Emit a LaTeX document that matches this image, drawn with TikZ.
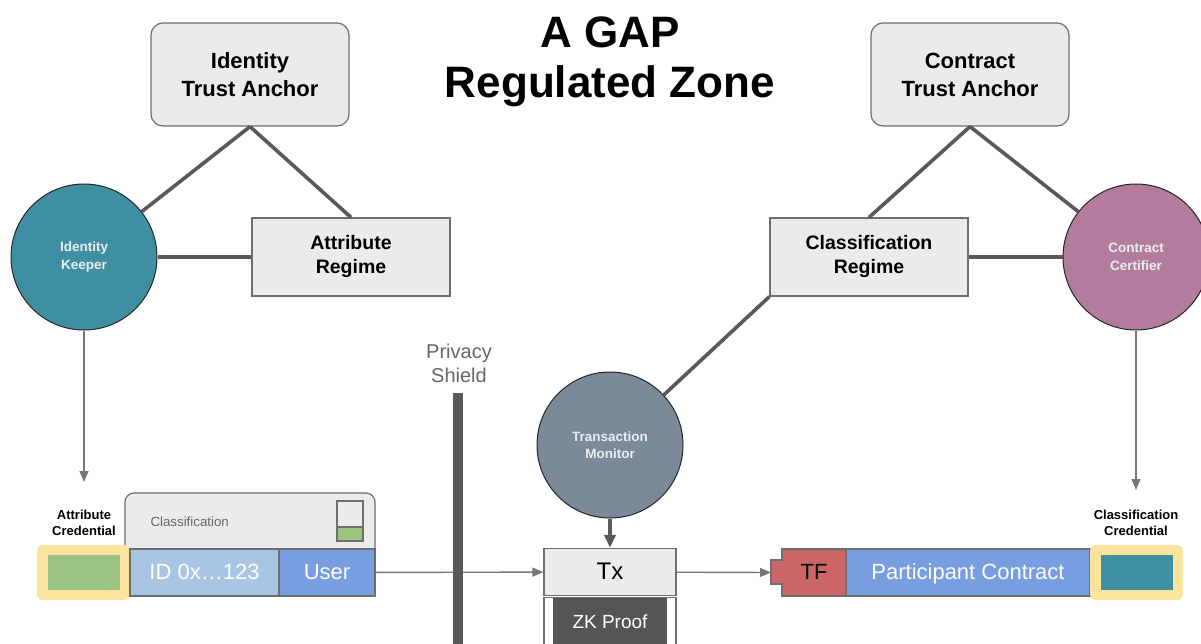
\documentclass[tikz,border=0pt]{standalone}
\usepackage{fontspec}
\setmainfont{Liberation Sans}
\usetikzlibrary{arrows.meta}

\definecolor{boxfill}{HTML}{EBEBEB}
\definecolor{boxline}{HTML}{6E6E6E}
\definecolor{linkgray}{HTML}{595959}
\definecolor{feedgray}{HTML}{777777}
\definecolor{idteal}{HTML}{3F8FA3}
\definecolor{ctmauve}{HTML}{B37B9C}
\definecolor{txslate}{HTML}{7A8A99}
\definecolor{rolefont}{HTML}{EAEEF0}
\definecolor{glowyellow}{HTML}{FBE59E}
\definecolor{chipgreen}{HTML}{9CC382}
\definecolor{idblue}{HTML}{A8C5E3}
\definecolor{userblue}{HTML}{789DE1}
\definecolor{tfred}{HTML}{CC6666}
\definecolor{zkgray}{HTML}{555555}
\definecolor{softtext}{HTML}{666666}

\begin{document}
\begin{tikzpicture}[x=1pt, y=-1pt, >={Triangle[length=11pt,width=9pt]},
    anchorbox/.style = {draw=boxline, fill=boxfill, line width=1.2pt, rounded corners=12pt,
      minimum width=198pt, minimum height=103pt, align=center,
      font=\bfseries\fontsize{22}{28}\selectfont},
    regime/.style = {draw=boxline, fill=boxfill, line width=1.2pt,
      minimum width=198pt, minimum height=78pt, align=center,
      font=\bfseries\fontsize{19.5}{24}\selectfont},
    role/.style = {circle, draw=black!85, line width=1pt, minimum size=146pt, inner sep=0pt,
      text=rolefont, align=center, font=\bfseries\fontsize{13.5}{17.5}\selectfont},
    link/.style = {draw=linkgray, line width=3.6pt},
    feed/.style = {->, draw=feedgray, line width=1.4pt},
    capt/.style = {align=center, font=\bfseries\fontsize{13}{16}\selectfont},
    cell/.style = {draw=boxline, line width=1.2pt, minimum height=47pt, inner sep=0pt,
      text=white, text depth=1pt, font=\fontsize{22}{26}\selectfont},
    glow/.style = {fill=glowyellow, rounded corners=6pt, minimum width=93pt, minimum height=55pt},
    chip/.style = {minimum width=72pt, minimum height=35pt}]

    \clip (0,0) rectangle (1201,644);
    \fill[white] (0,0) rectangle (1201,644);

    % Title
    \node[align=center, font=\bfseries\fontsize{44}{50}\selectfont] (title) at (610,62) {A GAP\\Regulated Zone};

    % Trust anchors and regimes
    \node[anchorbox] (idanchor) at (250,74.5) {Identity\\Trust Anchor};
    \node[anchorbox] (ctanchor) at (970,74.5) {Contract\\Trust Anchor};
    \node[regime] (attrregime) at (351,257) {Attribute\\Regime};
    \node[regime] (clsregime) at (869,257) {Classification\\Regime};

    % Roles
    \node[role, fill=idteal] (keeper) at (84,257) {Identity\\Keeper};
    \node[role, fill=ctmauve] (certifier) at (1136,257) {Contract\\Certifier};
    \node[role, fill=txslate] (monitor) at (610,445) {Transaction\\Monitor};

    % Privacy shield label
    \node[align=center, text=softtext, font=\fontsize{20}{24}\selectfont] (shield) at (459,363) {Privacy\\Shield};

    % Attribute credential and user
    \node[capt] (attrcap) at (84,523) {Attribute\\Credential};
    \node[draw=boxline, fill=boxfill, line width=1.2pt, rounded corners=9pt,
      minimum width=250pt, minimum height=64pt] (clsbox) at (250,525) {};
    \node[anchor=west, text=softtext, font=\fontsize{13.3}{16}\selectfont] (clslabel) at (147,522) {Classification};
    \filldraw[draw=boxline, fill=boxfill, line width=1.2pt] (337,501) rectangle (363,541);
    \filldraw[draw=boxline, fill=chipgreen, line width=1.2pt] (337,527) rectangle (363,541);
    \node[glow] (attrglow) at (83.5,572.5) {};
    \node[chip, fill=chipgreen] (attrchip) at (attrglow) {};
    \node[cell, fill=idblue, minimum width=149pt] (idcell) at (204.5,572.5) {ID 0x…123};
    \node[cell, fill=userblue, minimum width=96pt] (user) at (327,572.5) {User};

    % Transaction
    \node[cell, fill=boxfill, text=black, minimum width=132pt, font=\fontsize{24}{28}\selectfont] (tx) at (610,572) {Tx};
    \node[draw=boxline, fill=white, line width=1.2pt, minimum width=132pt, minimum height=60pt, anchor=north] (zkframe) at (610,597) {};
    \node[fill=zkgray, minimum width=114pt, minimum height=48pt, anchor=north, text=white,
      font=\fontsize{19}{22}\selectfont] (zk) at (610,598) {ZK Proof};

    % Contract and classification credential
    \filldraw[draw=boxline, fill=tfred, line width=1.2pt] (782,549) -- (846,549) -- (846,596) -- (782,596)
      -- (782,584) -- (771,584) -- (771,560) -- (782,560) -- cycle;
    \node[font=\fontsize{22}{26}\selectfont, text depth=1pt] (tf) at (814,572.5) {TF};
    \coordinate (tfnotch) at (771,572.5);
    \node[cell, fill=userblue, minimum width=244pt] (contract) at (968,572.5) {Participant Contract};
    \node[glow] (clsglow) at (1136.5,572.5) {};
    \node[chip, fill=idteal] (clschip) at (clsglow) {};
    \node[capt] (clscap) at (1136,523) {Classification\\Credential};

    \coordinate (attrin) at (84,482);
    \coordinate (clsin) at (1136,490);

    % Edges
    \draw[link] (idanchor.south) -- (keeper);
    \draw[link] (idanchor.south) -- (attrregime.north);
    \draw[link] (keeper) -- (attrregime);
    \draw[link] (ctanchor.south) -- (clsregime.north);
    \draw[link] (ctanchor.south) -- (certifier);
    \draw[link] (certifier) -- (clsregime);
    \draw[link] (clsregime.south west) -- (monitor);
    \draw[link, -{Triangle[length=13pt,width=11pt]}] (monitor) -- (tx);

    \draw[feed] (keeper) -- (attrin);
    \draw[feed] (certifier) -- (clsin);
    \draw[feed] (user) -- (tx);
    \draw[feed] (tx) -- (tfnotch);

    % the shield itself sits on top of the flow
    \fill[linkgray] (453,393) rectangle (463,650);

\end{tikzpicture}
\end{document}
